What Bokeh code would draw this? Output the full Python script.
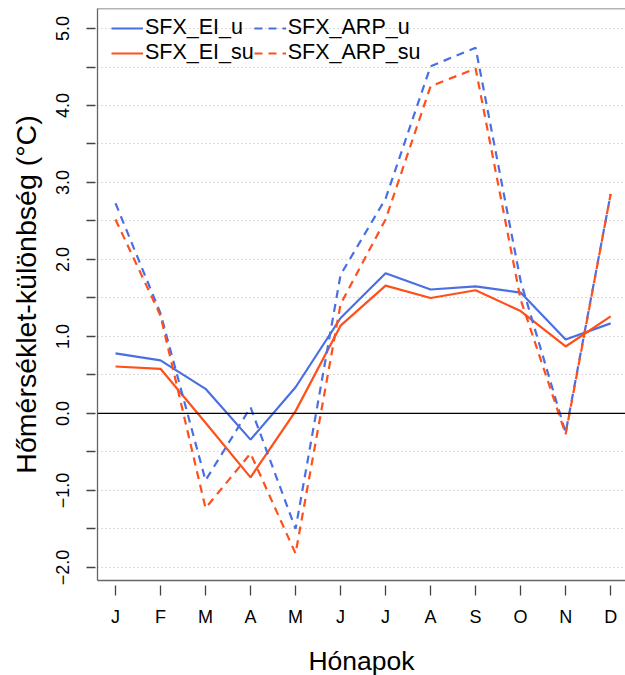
from bokeh.plotting import figure
from bokeh.models import (Range1d, FixedTicker, Legend, LegendItem, Span)
from bokeh.embed import file_html
from bokeh.resources import INLINE

months = ["J", "F", "M", "A", "M", "J", "J", "A", "S", "O", "N", "D"]
month_idx = list(range(1, 13))

sfx_ei_u = [0.78, 0.69, 0.32, -0.34, 0.34, 1.24, 1.82, 1.61, 1.65, 1.57, 0.96, 1.17]
sfx_ei_su = [0.61, 0.58, -0.12, -0.83, 0.03, 1.14, 1.66, 1.50, 1.60, 1.33, 0.87, 1.26]
sfx_arp_u = [2.73, 1.30, -0.87, 0.08, -1.50, 1.80, 2.79, 4.51, 4.75, 1.72, -0.25, 2.85]
sfx_arp_su = [2.52, 1.27, -1.23, -0.52, -1.82, 1.42, 2.52, 4.25, 4.48, 1.48, -0.27, 2.85]

y_ticks = [-2.0, -1.5, -1.0, -0.5, 0.0, 0.5, 1.0, 1.5, 2.0, 2.5, 3.0, 3.5, 4.0, 4.5, 5.0]

BLUE = "#4a6fe3"
ORANGE = "#ff4f1a"
FONT = "Liberation Sans"

p = figure(width=625, height=675, output_backend="svg", toolbar_location=None,
           x_range=Range1d(0.6, 12.33), y_range=Range1d(-2.17, 5.26),
           min_border_left=97, min_border_right=0, min_border_top=8, min_border_bottom=95)
p.frame_width = 528
p.frame_height = 572
p.outline_line_color = None
p.background_fill_color = "white"
p.xgrid.grid_line_color = None
p.ygrid.ticker = FixedTicker(ticks=y_ticks)
p.ygrid.grid_line_color = "#b5b5b5"
p.ygrid.grid_line_dash = "1 3"
p.ygrid.grid_line_width = 1.2

# axes
xa = p.xaxis[0]
xa.ticker = FixedTicker(ticks=month_idx)
xa.major_label_overrides = {i: m for i, m in zip(month_idx, months)}
xa.minor_tick_line_color = None
xa.major_tick_in = -5
xa.major_tick_out = 15
xa.major_tick_line_color = "#444444"
xa.major_tick_line_width = 1.3
xa.axis_line_color = "#666666"
xa.axis_line_width = 1.3
xa.major_label_text_font = FONT
xa.major_label_text_font_size = "18px"
xa.major_label_text_color = "black"
xa.major_label_standoff = 11
xa.axis_label = "Hónapok"
xa.axis_label_text_font = FONT
xa.axis_label_text_font_size = "26.5px"
xa.axis_label_text_font_style = "normal"
xa.axis_label_text_color = "black"
xa.axis_label_standoff = 16

ya = p.yaxis[0]
ya.ticker = FixedTicker(ticks=y_ticks)
overrides = {}
for t in y_ticks:
    if abs(t - round(t)) > 1e-9:
        overrides[t] = ""
    else:
        overrides[t] = ("\u2212%.1f" % abs(t)) if t < 0 else "%.1f" % t
ya.major_label_overrides = overrides
ya.minor_tick_line_color = None
ya.major_tick_in = -2
ya.major_tick_out = 11
ya.major_tick_line_color = "#444444"
ya.major_tick_line_width = 1.3
ya.axis_line_color = "#666666"
ya.axis_line_width = 1.3
ya.major_label_orientation = "vertical"
ya.major_label_text_font = FONT
ya.major_label_text_font_size = "18px"
ya.major_label_text_color = "black"
ya.major_label_standoff = 17
ya.axis_label = "Hőmérséklet-különbség (°C)"
ya.axis_label_text_font = FONT
ya.axis_label_text_font_size = "28.5px"
ya.axis_label_text_font_style = "normal"
ya.axis_label_text_color = "black"
ya.axis_label_standoff = 12

# top frame line and zero line
p.add_layout(Span(location=5.26, dimension="width", line_color="#666666", line_width=1.3))
p.add_layout(Span(location=0, dimension="width", line_color="black", line_width=1.2))

r1 = p.line(month_idx, sfx_ei_u, line_color=BLUE, line_width=2.2)
r2 = p.line(month_idx, sfx_ei_su, line_color=ORANGE, line_width=2.2)
r3 = p.line(month_idx, sfx_arp_u, line_color=BLUE, line_width=2.2, line_dash="8 6")
r4 = p.line(month_idx, sfx_arp_su, line_color=ORANGE, line_width=2.2, line_dash="8 6")

legend = Legend(items=[LegendItem(label="SFX_EI_u", renderers=[r1]),
                       LegendItem(label="SFX_EI_su", renderers=[r2]),
                       LegendItem(label="SFX_ARP_u", renderers=[r3]),
                       LegendItem(label="SFX_ARP_su", renderers=[r4])],
                nrows=2, location=(14, 515))
legend.border_line_color = None
legend.background_fill_alpha = 0
legend.label_text_font = FONT
legend.label_text_font_size = "21.5px"
legend.label_text_color = "black"
legend.glyph_width = 32
legend.glyph_height = 20
legend.label_standoff = 2
legend.label_height = 20
legend.spacing = 0
legend.padding = 8
legend.margin = 0
p.add_layout(legend)

open("out.html", "w").write(file_html(p, INLINE))
